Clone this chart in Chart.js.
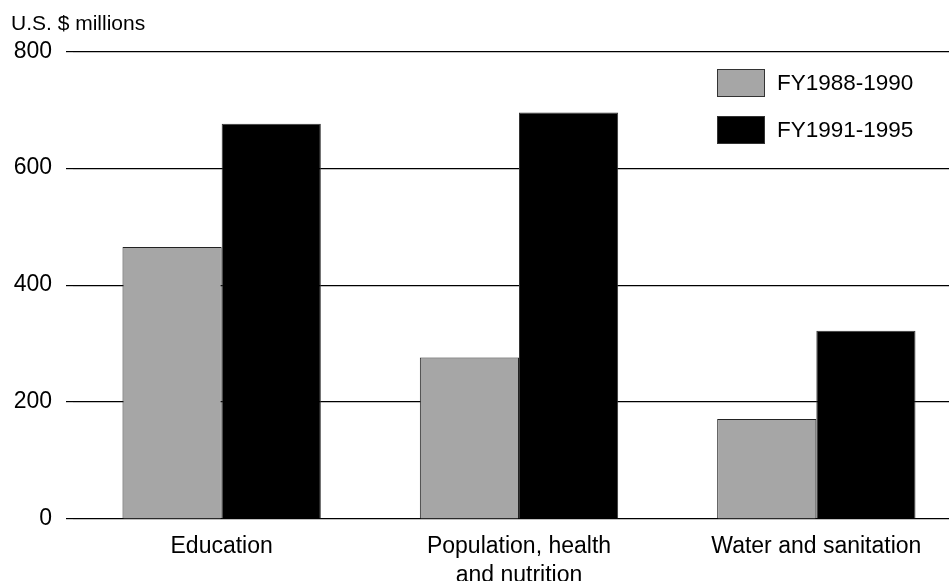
<!DOCTYPE html>
<html>
<head>
<meta charset="utf-8">
<script src="https://cdn.jsdelivr.net/npm/chart.js@4/dist/chart.umd.min.js"></script>
<style>
  html, body { margin: 0; padding: 0; background: #fff; overflow: hidden; }
  #wrap { width: 966px; height: 581px; position: relative; }
</style>
</head>
<body>
<div id="wrap"><canvas id="myChart"></canvas></div>
<script>
const categories = ['Education', ['Population, health', 'and nutrition'], 'Water and sanitation'];
const seriesNames = ['FY1988-1990', 'FY1991-1995'];
const fy8890 = [465, 276, 171];
const fy9195 = [676, 695, 322];
const yTicks = [0, 200, 400, 600, 800];

const FONT = "'Liberation Sans', Arial, sans-serif";

// legend drawn inside the plot, top right
const boxLegend = {
    id: 'boxLegend',
    afterDraw(chart) {
        const ctx = chart.ctx;
        ctx.save();
        chart.data.datasets.forEach((ds, i) => {
            const y = 69 + i * 47;
            ctx.fillStyle = ds.backgroundColor;
            ctx.fillRect(717, y, 48, 28);
            ctx.strokeStyle = '#333';
            ctx.lineWidth = 1;
            ctx.strokeRect(717.5, y + 0.5, 47, 27);
            ctx.fillStyle = '#000';
            ctx.font = '22.5px ' + FONT;
            ctx.textBaseline = 'middle';
            ctx.fillText(ds.label, 777, y + 15);
        });
        ctx.restore();
    }
};

const ctx = document.getElementById('myChart').getContext('2d');
new Chart(ctx, {
    type: 'bar',
    data: {
        labels: categories,
        datasets: [
            { label: seriesNames[0], data: fy8890, backgroundColor: '#a6a6a6', borderColor: '#222', borderWidth: 1 },
            { label: seriesNames[1], data: fy9195, backgroundColor: '#000000', borderColor: '#333', borderWidth: 1 }
        ]
    },
    options: {
        responsive: true,
        maintainAspectRatio: false,
        animation: false,
        layout: { padding: { left: 11, right: 1, top: 0, bottom: 0 } },
        datasets: { bar: { barPercentage: 1, categoryPercentage: 0.667 } },
        plugins: {
            legend: { display: false },
            tooltip: { enabled: false },
            title: {
                display: true,
                text: 'U.S. $ millions',
                align: 'start',
                color: '#000',
                font: { family: FONT, size: 21, weight: 'normal' },
                padding: { top: 12, bottom: 14 }
            }
        },
        scales: {
            x: {
                grid: { display: false },
                border: { display: false },
                ticks: {
                    color: '#000',
                    font: { family: FONT, size: 23, lineHeight: 1.26 },
                    padding: 5,
                    maxRotation: 0,
                    autoSkip: false
                },
                afterFit: s => { s.height = 62; }
            },
            y: {
                min: 0,
                max: 800,
                afterBuildTicks: s => { s.ticks = yTicks.map(v => ({ value: v })); },
                grid: { color: '#000', lineWidth: 1.2, tickLength: 7, drawTicks: true },
                border: { display: false },
                ticks: {
                    color: '#000',
                    font: { family: FONT, size: 23 },
                    padding: 14
                },
                afterFit: s => { s.width = 62; }
            }
        }
    },
    plugins: [boxLegend]
});
</script>
</body>
</html>
